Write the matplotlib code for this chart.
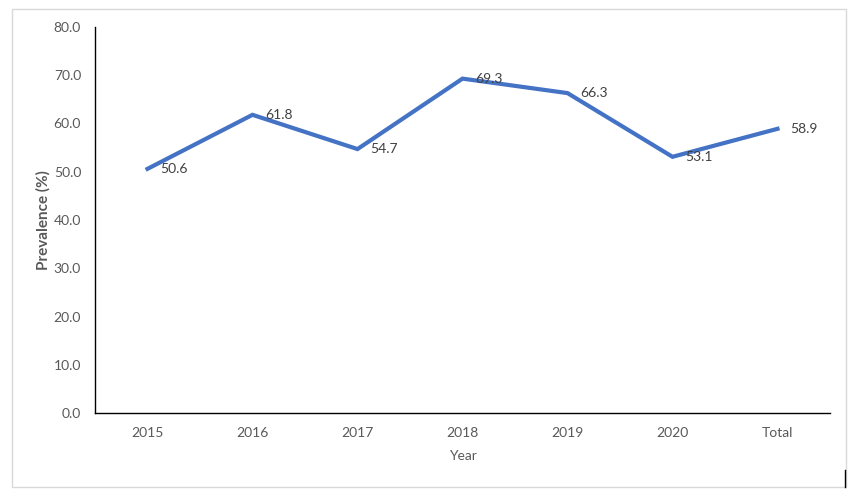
import matplotlib
matplotlib.use("Agg")
import matplotlib.pyplot as plt
from matplotlib.patches import Rectangle
from matplotlib.lines import Line2D

categories = ["2015", "2016", "2017", "2018", "2019", "2020", "Total"]
prevalence = [50.6, 61.8, 54.7, 69.3, 66.3, 53.1, 58.9]
yticks = [0, 10, 20, 30, 40, 50, 60, 70, 80]

plt.rcParams['font.family'] = ['Lato', 'DejaVu Sans']
W, H = 866, 500
fig = plt.figure(figsize=(W/100, H/100), dpi=100)
ax = fig.add_axes([95/W, 1-413/H, (830-95)/W, (413-27)/H])

x = list(range(len(categories)))
ax.plot(x, prevalence, color="#4472C4", lw=3, solid_joinstyle="miter")
for xi, v in zip(x, prevalence):
    ax.annotate(f"{v:.1f}", (xi, v), xytext=(13, 0), textcoords="offset pixels",
                ha="left", va="center", fontsize=10, color="#404040")

ax.set_xlim(-0.5, len(categories)-0.5)
ax.set_ylim(0, 80)
ax.set_yticks(yticks)
ax.set_yticklabels([f"{t:.1f}" for t in yticks])
ax.set_xticks(x)
ax.set_xticklabels(categories)
ax.tick_params(length=0, labelsize=10, colors="#595959", pad=10)
ax.tick_params(axis='y', pad=10)
for s in ["top", "right"]:
    ax.spines[s].set_visible(False)
for s in ["left", "bottom"]:
    ax.spines[s].set_color("black")
    ax.spines[s].set_linewidth(1)
ax.set_xlabel("Year", fontsize=10, color="#595959", labelpad=8)
ax.set_ylabel("Prevalence (%)", fontsize=11, color="#595959", fontweight="bold", labelpad=2)

fig.patches.append(Rectangle((12/W, 1-487/H), (846-12)/W, (487-9)/H, transform=fig.transFigure,
                             fill=False, edgecolor="#D9D9D9", lw=1))
fig.lines.append(Line2D([845/W, 845/W], [1-470/H, 1-487/H], transform=fig.transFigure,
                        color="black", lw=1))
fig.savefig("out.png", dpi=100)
